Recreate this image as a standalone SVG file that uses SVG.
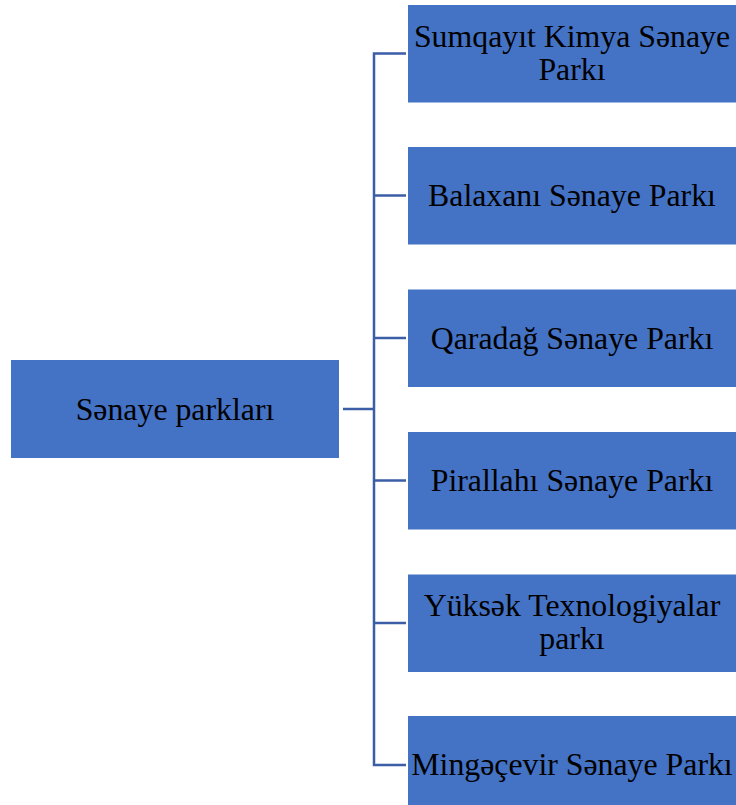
<svg xmlns="http://www.w3.org/2000/svg" width="736" height="805" viewBox="0 0 736 805">
<style>
.box{fill:#4472C4;}
.t{font-family:"Liberation Serif","Times New Roman",serif;font-size:31.8px;fill:#000;text-anchor:middle;}
.c{fill:none;stroke:#3B5EA6;stroke-width:2.5;}
</style>
<rect width="736" height="805" fill="#fff"/>
<g id="connectors">
<line class="c" x1="343" y1="409" x2="374" y2="409"/>
<polyline class="c" points="406,53.5 374,53.5 374,765 406,765"/>
<line class="c" x1="374" y1="195.5" x2="406" y2="195.5"/>
<line class="c" x1="374" y1="338" x2="406" y2="338"/>
<line class="c" x1="374" y1="480.5" x2="406" y2="480.5"/>
<line class="c" x1="374" y1="623" x2="406" y2="623"/>
</g>
<g id="root">
<rect class="box" x="11" y="360" width="328" height="98"/>
<text class="t" x="175" y="420">Sənaye parkları</text>
</g>
<g id="n1">
<rect class="box" x="408" y="5" width="328" height="97.5"/>
<text class="t" x="572" y="47">Sumqayıt Kimya Sənaye</text>
<text class="t" x="572" y="80">Parkı</text>
</g>
<g id="n2">
<rect class="box" x="408" y="147" width="328" height="97.5"/>
<text class="t" x="572" y="206">Balaxanı Sənaye Parkı</text>
</g>
<g id="n3">
<rect class="box" x="408" y="289.5" width="328" height="97.5"/>
<text class="t" x="572" y="348.5">Qaradağ Sənaye Parkı</text>
</g>
<g id="n4">
<rect class="box" x="408" y="432" width="328" height="97.5"/>
<text class="t" x="572" y="491">Pirallahı Sənaye Parkı</text>
</g>
<g id="n5">
<rect class="box" x="408" y="574.5" width="328" height="97.5"/>
<text class="t" x="572" y="616">Yüksək Texnologiyalar</text>
<text class="t" x="572" y="649">parkı</text>
</g>
<g id="n6">
<rect class="box" x="408" y="716" width="328" height="97.5"/>
<text class="t" x="572" y="775">Mingəçevir Sənaye Parkı</text>
</g>
</svg>
